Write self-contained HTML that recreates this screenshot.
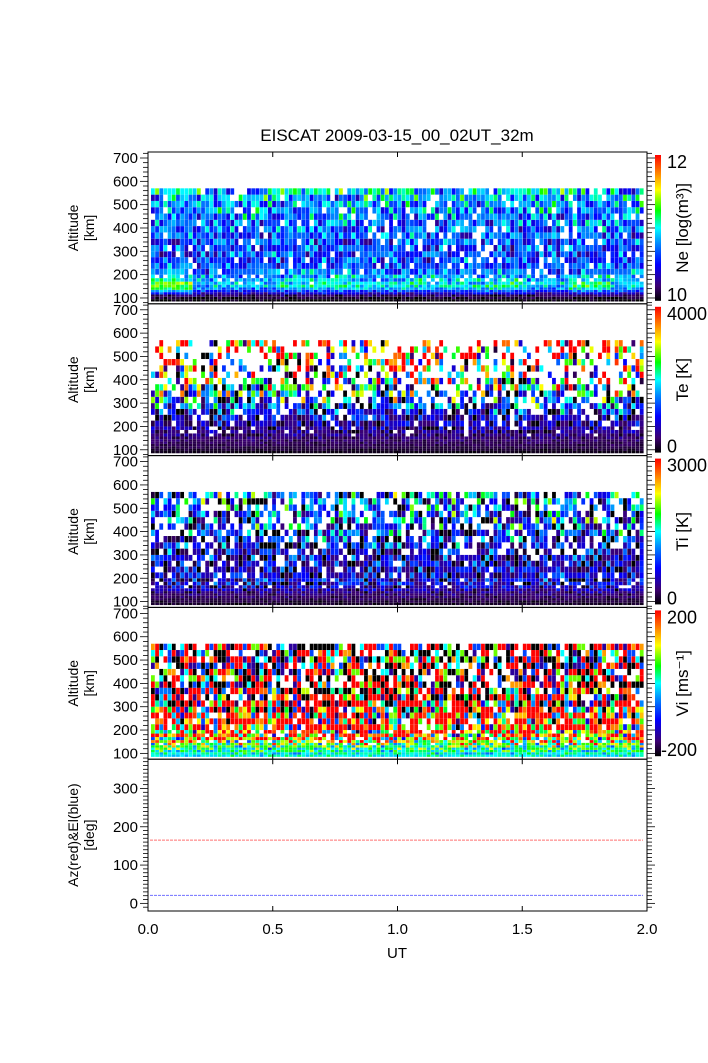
<!DOCTYPE html>
<html><head><meta charset="utf-8">
<style>
body{margin:0;background:#fff;}
svg{display:block;font-family:"Liberation Sans",Arial,sans-serif;}
</style></head>
<body>
<svg id="chart" width="708" height="1063" viewBox="0 0 708 1063" xmlns="http://www.w3.org/2000/svg">
<defs>
<linearGradient id="cmap" x1="0" y1="1" x2="0" y2="0">
<stop offset="0" stop-color="#000000"/><stop offset="0.1" stop-color="#3c0070"/>
<stop offset="0.25" stop-color="#0000ff"/><stop offset="0.4" stop-color="#0090ff"/>
<stop offset="0.5" stop-color="#00ffff"/><stop offset="0.62" stop-color="#00ff00"/>
<stop offset="0.76" stop-color="#ffff00"/><stop offset="0.88" stop-color="#ff8000"/>
<stop offset="1" stop-color="#ff0000"/>
</linearGradient>
</defs>
<text x="397" y="141" font-size="17" text-anchor="middle">EISCAT 2009-03-15_00_02UT_32m</text>
<g id="layer"></g>
</svg>
<script>
// ---- data ----
const altEdges=[85,95,105,115,125,135,145,157,170,185,200,225,250,275,300,327,354,381,408,435,462,489,516,543,570];
const nCols=118;
const noiseA="3817264950194738261560293847561738290465829103746556102938472948571036739102846504928371658374619205".split('').map(Number);
const noiseB="72940183652817394056193847205618293746502918374651029384756381920475618293740592837465018".split('').map(Number);
const neBase=[0.0,0.04,0.08,0.14,0.22,0.3,0.35,0.36,0.36,0.35,0.33,0.32,0.31,0.31,0.31,0.32,0.33,0.34,0.35,0.36,0.38,0.4,0.42,0.46];
const neAmp=[0.05,0.06,0.08,0.1,0.12,0.14,0.15,0.16,0.18,0.18,0.2,0.2,0.22,0.22,0.22,0.22,0.22,0.22,0.24,0.25,0.25,0.25,0.28,0.3];
const neMiss=[0,0,0,0,0,0,0,0.02,0.03,0.03,0.04,0.05,0.06,0.06,0.06,0.07,0.08,0.08,0.09,0.1,0.1,0.1,0.1,0.1];
const neBoost=[0.22,0.05,0.05,0.1,0.12,0.08,0.1,0.1,0.12,0.05,0.15,0.08];
const teBase=[0.02,0.04,0.06,0.07,0.08,0.09,0.1,0.11,0.12,0.13,0.15,0.18,0.22,0.28,0.33,0.38,0.45,0.5,0.55,0.6,0.65,0.7,0.75,0.8];
const teAmp=[0.02,0.03,0.03,0.04,0.05,0.06,0.07,0.09,0.12,0.15,0.2,0.28,0.35,0.45,0.55,0.65,0.7,0.8,0.85,0.9,0.9,0.9,0.9,0.9];
const teMiss=[0,0,0,0,0,0,0,0.02,0.03,0.05,0.08,0.12,0.15,0.2,0.25,0.3,0.35,0.4,0.45,0.5,0.5,0.5,0.5,0.45];
const tiBase=[0.03,0.05,0.07,0.09,0.1,0.12,0.15,0.17,0.19,0.2,0.19,0.18,0.18,0.18,0.18,0.2,0.22,0.24,0.26,0.28,0.28,0.3,0.3,0.33];
const tiAmp=[0.03,0.04,0.05,0.06,0.08,0.12,0.15,0.2,0.25,0.25,0.25,0.25,0.28,0.3,0.32,0.35,0.4,0.42,0.45,0.5,0.5,0.5,0.5,0.5];
const tiMiss=[0,0,0,0,0,0,0,0.01,0.02,0.03,0.04,0.05,0.07,0.1,0.12,0.15,0.18,0.2,0.22,0.25,0.28,0.3,0.3,0.3];
const viBase=[0.5,0.5,0.55,0.55,0.6,0.65,0.72,0.78,0.82,0.85,0.88,0.88,0.82,0.75,0.7,0.62,0.55,0.5,0.5,0.5,0.5,0.5,0.5,0.5];
const viAmp=[0.1,0.15,0.2,0.25,0.3,0.4,0.5,0.6,0.7,0.8,0.9,1.0,1.1,1.3,1.4,1.5,1.6,1.6,1.6,1.6,1.6,1.6,1.6,1.6];
const viMiss=[0,0,0,0,0,0.01,0.02,0.03,0.04,0.05,0.06,0.07,0.08,0.09,0.1,0.1,0.12,0.12,0.13,0.14,0.15,0.15,0.15,0.15];
const azValue=165, elValue=21;
const altTicks=[100,200,300,400,500,600,700];
const degTicks=[0,100,200,300];
const utTicks=[0.0,0.5,1.0,1.5,2.0];
const cbLabels=[["12","10","Ne [log(m\u00b3)]"],["4000","0","Te [K]"],["3000","0","Ti [K]"],["200","-200","Vi [ms\u207b\u00b9]"]];

// ---- geometry ----
const X0=148,X1=647,PTOP=152,PH=151.8;
const NS="http://www.w3.org/2000/svg";
const layer=document.getElementById('layer');
function xUT(t){return X0+(X1-X0)*t/2;}
function yAlt(p,a){return PTOP+p*PH+6+(700-a)*0.2333;}
function yDeg(d){return PTOP+4*PH+148-(d+10)*0.383;}
function mk(tag,attrs,parent){const e=document.createElementNS(NS,tag);for(const k in attrs)e.setAttribute(k,attrs[k]);(parent||layer).appendChild(e);return e;}
const stops=[[0,[0,0,0]],[0.1,[60,0,112]],[0.25,[0,0,255]],[0.4,[0,144,255]],[0.5,[0,255,255]],[0.62,[0,255,0]],[0.76,[255,255,0]],[0.88,[255,128,0]],[1,[255,0,0]]];
function cmap(v){v=Math.max(0,Math.min(1,v));for(let i=1;i<stops.length;i++){if(v<=stops[i][0]){const a=stops[i-1],b=stops[i];const f=(v-a[0])/(b[0]-a[0]);const c=a[1].map((x,k)=>Math.round(x+(b[1][k]-x)*f));return `rgb(${c[0]},${c[1]},${c[2]})`;}}return 'rgb(255,0,0)';}

const panels=[[neBase,neAmp,neMiss,'ne'],[teBase,teAmp,teMiss,'te'],[tiBase,tiAmp,tiMiss,'ti'],[viBase,viAmp,viMiss,'vi']];
const cw=(X1-X0-6)/nCols;
panels.forEach((P,p)=>{
  const g=mk('g',{});
  
  
  for(let r=0;r<altEdges.length-1;r++){
    const yTop=yAlt(p,altEdges[r+1]),yBot=yAlt(p,altEdges[r]);
    for(let c=0;c<nCols;c++){
      const a=noiseA[(c*7+r*3+p*13)%noiseA.length],b=noiseB[(c*5+r*11+p*3)%noiseB.length];
      const m=((a*3+b*7+c)%10)/10;
      if(m<P[2][r])continue;
      let v=P[0][r]+P[1][r]*((a+b)/18-0.5)*2;
      if(p===0&&r>=3&&r<=10)v+=neBoost[Math.floor(c/10)]*(1-Math.abs(r-6)/5)*1.6;
      const rect=mk('rect',{x:(X0+3+c*cw).toFixed(2),y:yTop.toFixed(2),width:(cw-0.4).toFixed(2),height:(yBot-yTop).toFixed(2),fill:cmap(v)},g);
      
      
    }
  }
});

// axes and frames
for(let p=0;p<5;p++){
  const top=PTOP+p*PH,bot=top+PH;
  const fr=mk('rect',{x:X0,y:top,width:X1-X0,height:PH,fill:'none',stroke:'#000','stroke-width':1});
  
  
  utTicks.forEach(t=>{const x=xUT(t);mk('line',{x1:x,x2:x,y1:bot,y2:bot-5,stroke:'#000'});mk('line',{x1:x,x2:x,y1:top,y2:top+5,stroke:'#000'});});
  if(p<4){
    for(let a=80;a<=720;a+=20){const y=yAlt(p,a);if(y<top||y>bot)continue;const major=a%100===0;mk('line',{x1:X0-(major?8:5),x2:X0,y1:y,y2:y,stroke:'#000','stroke-width':0.8});mk('line',{x1:X1,x2:X1+(major?8:5),y1:y,y2:y,stroke:'#000','stroke-width':0.8});}
    altTicks.forEach(a=>{const t=mk('text',{x:X0-10,y:yAlt(p,a)+5,'font-size':15,'text-anchor':'end'});t.textContent=a;});
    const yl=mk('text',{transform:`translate(78,${top+PH/2}) rotate(-90)`,'font-size':14,'text-anchor':'middle'});yl.textContent='Altitude';
    
    const yl2=mk('text',{transform:`translate(94,${top+PH/2}) rotate(-90)`,'font-size':14,'text-anchor':'middle'});yl2.textContent='[km]';
    
    const cb=mk('rect',{x:655,y:top+3,width:6,height:PH-6,fill:'url(#cmap)'});
    
    const l1=mk('text',{x:667,y:top+16,'font-size':18});l1.textContent=cbLabels[p][0];
    
    const l2=mk('text',{x:p===3?661:667,y:bot-3,'font-size':18});l2.textContent=cbLabels[p][1];
    
    const l3=mk('text',{transform:`translate(688,${top+PH/2}) rotate(-90)`,'font-size':17,'text-anchor':'middle'});l3.textContent=cbLabels[p][2];
    
  } else {
    for(let d=-10;d<=390;d+=10){const y=yDeg(d);if(y<top||y>bot)continue;const major=d%100===0;mk('line',{x1:X0-(major?8:5),x2:X0,y1:y,y2:y,stroke:'#000','stroke-width':0.8});mk('line',{x1:X1,x2:X1+(major?8:5),y1:y,y2:y,stroke:'#000','stroke-width':0.8});}
    degTicks.forEach(d=>{const t=mk('text',{x:X0-10,y:yDeg(d)+5,'font-size':15,'text-anchor':'end'});t.textContent=d;});
    const yl=mk('text',{transform:`translate(78,${top+PH/2}) rotate(-90)`,'font-size':14,'text-anchor':'middle'});yl.textContent='Az(red)&El(blue)';
    
    const yl2=mk('text',{transform:`translate(94,${top+PH/2}) rotate(-90)`,'font-size':14,'text-anchor':'middle'});yl2.textContent='[deg]';
    
    const az=mk('line',{x1:X0+2,x2:X1-4,y1:yDeg(azValue),y2:yDeg(azValue),stroke:'#ff7070','stroke-width':1,'stroke-dasharray':'3 1'});
    
    const el=mk('line',{x1:X0+2,x2:X1-4,y1:yDeg(elValue),y2:yDeg(elValue),stroke:'#7070ff','stroke-width':1,'stroke-dasharray':'3 1'});
    
    utTicks.forEach(t=>{const tx=mk('text',{x:xUT(t),y:top+PH+23,'font-size':15,'text-anchor':'middle'});tx.textContent=t.toFixed(1);});
    const xl=mk('text',{x:397,y:top+PH+47,'font-size':15,'text-anchor':'middle'});xl.textContent='UT';
    
  }
}
</script>
</body></html>
